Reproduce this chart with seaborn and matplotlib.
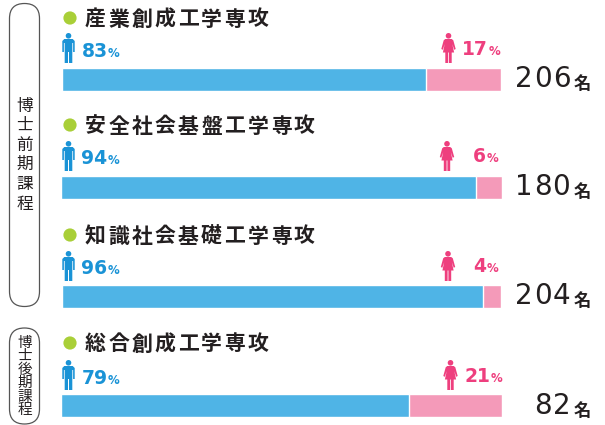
import matplotlib
matplotlib.use("Agg")
import matplotlib.pyplot as plt
from matplotlib.patches import Circle, FancyBboxPatch, Polygon
import seaborn as sns

majors = ["産業創成工学専攻", "安全社会基盤工学専攻", "知識社会基礎工学専攻", "総合創成工学専攻"]
male_pct = [83, 94, 96, 79]
female_pct = [17, 6, 4, 21]
counts = [206, 180, 204, 82]
course_master = "博士前期課程"
course_doctor = "博士後期課程"

W, H = 605, 425
BLUE, PINK = "#4FB4E6", "#F49AB9"
MALE_C, FEMALE_C = "#1A93D6", "#EE3F7E"
GREEN, INK = "#A9CF38", "#231F20"
CJK = ["Noto Sans CJK JP", "DejaVu Sans"]
NUM = ["DejaVu Sans"]

# left, top, width of each bar in pixels
BAR_BOX = [(62, 68, 439), (61, 176, 441), (62, 285, 439), (61, 394, 441)]
BAR_H = 23
TITLE_Y = [19, 126, 236, 344]
ICON_TOP = [33, 141, 251, 360]
MALE_X = [68.5, 68.5, 68.5, 68.5]
FEMALE_X = [448.5, 447, 448, 450.5]
FEMALE_NUM_END = [488, 486, 486, 490]
COUNT_BASE = [87, 195, 304, 414]

sns.set_theme(style="white")
plt.rcParams["font.family"] = CJK
fig = plt.figure(figsize=(W / 100, H / 100), dpi=100)
fig.patch.set_facecolor("white")

for (left, top, width), m, f, name in zip(BAR_BOX, male_pct, female_pct, majors):
    ax = fig.add_axes([left / W, 1 - (top + BAR_H) / H, width / W, BAR_H / H])
    sns.barplot(x=[m + f], y=[name], color=PINK, saturation=1, width=1, ax=ax)
    sns.barplot(x=[m], y=[name], color=BLUE, saturation=1, width=1, ax=ax)
    ax.set_xlim(0, 100)
    ax.set_ylim(0.5, -0.5)
    ax.axis("off")

# pixel-coordinate layer for the labels and pictograms
pa = fig.add_axes([0, 0, 1, 1], facecolor="none")
pa.set_xlim(0, W)
pa.set_ylim(H, 0)
pa.axis("off")


def spaced(x, y, s, dx=0, dy=0, **kw):
    for i, ch in enumerate(s):
        pa.text(x + i * dx, y + i * dy, ch, ha="center", va="center", **kw)


def male(cx, top):
    pa.add_patch(Circle((cx, top + 2.8), 2.8, color=MALE_C, lw=0))
    pts = [(-6.2, 8), (-4.2, 6), (4.2, 6), (6.2, 8), (6.2, 19), (4.6, 19), (4.6, 10),
           (3.8, 10), (3.8, 30), (0.5, 30), (0.5, 19), (-0.5, 19), (-0.5, 30), (-3.8, 30),
           (-3.8, 10), (-4.6, 10), (-4.6, 19), (-6.2, 19)]
    pa.add_patch(Polygon([(cx + a, top + b) for a, b in pts], color=MALE_C, lw=0))


def female(cx, top):
    pa.add_patch(Circle((cx, top + 2.8), 2.8, color=FEMALE_C, lw=0))
    pts = [(-3.2, 6), (3.2, 6), (4.8, 7.3), (7.2, 16), (5.7, 16.8), (3.8, 11), (5.6, 19.5),
           (3.2, 19.5), (3.2, 30), (0.4, 30), (0.4, 19.5), (-0.4, 19.5), (-0.4, 30), (-3.2, 30),
           (-3.2, 19.5), (-5.6, 19.5), (-3.8, 11), (-5.7, 16.8), (-7.2, 16), (-4.8, 7.3)]
    pa.add_patch(Polygon([(cx + a, top + b) for a, b in pts], color=FEMALE_C, lw=0))


for i, name in enumerate(majors):
    pa.add_patch(Circle((70, TITLE_Y[i] - 1), 6.6, color=GREEN, lw=0))
    spaced(95.5, TITLE_Y[i], name, dx=23.2, fontsize=15, color=INK, fontweight="bold")

    top = ICON_TOP[i]
    male(MALE_X[i], top)
    pa.text(81.5, top + 23.5, str(male_pct[i]), color=MALE_C, fontsize=13.5, fontweight="bold",
            family=NUM, ha="left", va="baseline")
    pa.text(107.5, top + 23.5, "%", color=MALE_C, fontsize=8.5, fontweight="bold",
            family=NUM, ha="left", va="baseline")

    female(FEMALE_X[i], top)
    pa.text(FEMALE_NUM_END[i], top + 21.5, str(female_pct[i]), color=FEMALE_C, fontsize=13.5,
            fontweight="bold", family=NUM, ha="right", va="baseline")
    pa.text(FEMALE_NUM_END[i] + 1, top + 21.5, "%", color=FEMALE_C, fontsize=8.5,
            fontweight="bold", family=NUM, ha="left", va="baseline")

    digits = str(counts[i])
    for j, ch in enumerate(reversed(digits)):
        pa.text(561.5 - j * 18.6, COUNT_BASE[i], ch, color=INK, fontsize=20, family=NUM,
                ha="center", va="baseline")
    pa.text(582.5, COUNT_BASE[i] + 1.5, "名", color=INK, fontsize=12.5, fontweight="bold",
            ha="center", va="baseline")

# course brackets
pa.add_patch(FancyBboxPatch((9.5, 3.5), 30, 303, boxstyle="round,pad=0,rounding_size=15",
                            fc="white", ec="#555555", lw=0.9))
pa.add_patch(FancyBboxPatch((9.5, 328), 30, 96, boxstyle="round,pad=0,rounding_size=15",
                            fc="white", ec="#555555", lw=0.9, clip_on=False))
spaced(24.5, 106, course_master, dy=19.6, fontsize=12, color=INK)
spaced(24.5, 343, course_doctor, dy=13.4, fontsize=10.5, color=INK)

fig.savefig("out.png", dpi=100)
